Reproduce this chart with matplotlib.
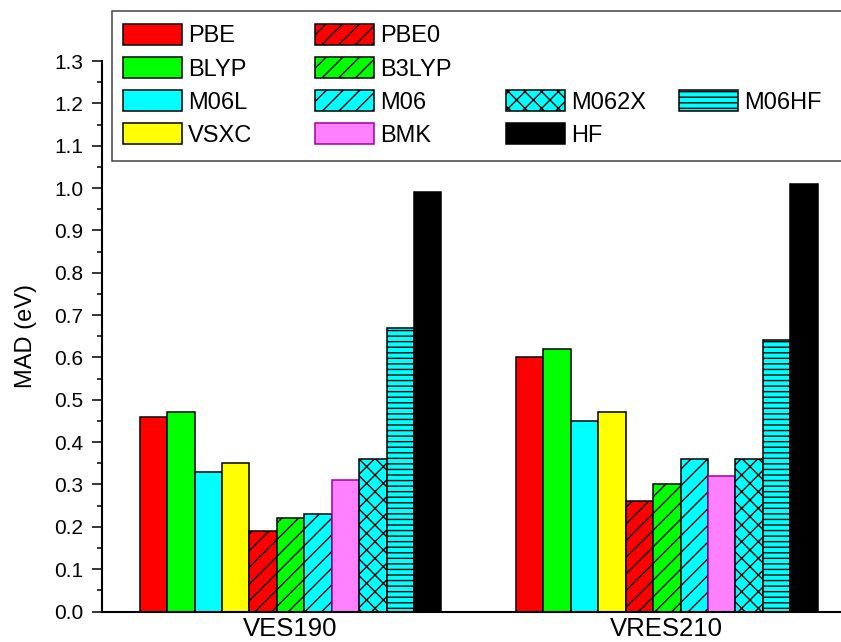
import matplotlib
matplotlib.use("Agg")
import matplotlib.pyplot as plt
from matplotlib.patches import Patch, Rectangle
from matplotlib.ticker import MultipleLocator, FormatStrFormatter
import numpy as np

plt.rcParams['font.family'] = ['Liberation Sans', 'DejaVu Sans']
plt.rcParams['hatch.linewidth'] = 1.0

groups = ["VES190", "VRES210"]
methods = ["PBE", "BLYP", "M06L", "VSXC", "PBE0", "B3LYP", "M06", "BMK", "M062X", "M06HF", "HF"]
ves190 = [0.46, 0.47, 0.33, 0.35, 0.19, 0.22, 0.23, 0.31, 0.36, 0.67, 0.99]
vres210 = [0.60, 0.62, 0.45, 0.47, 0.26, 0.30, 0.36, 0.32, 0.36, 0.64, 1.01]

faces = {"PBE": "#FF0000", "BLYP": "#00FF00", "M06L": "#00FFFF", "VSXC": "#FFFF00",
         "PBE0": "#FF0000", "B3LYP": "#00FF00", "M06": "#00FFFF", "BMK": "#FF80FF",
         "M062X": "#00FFFF", "M06HF": "#00FFFF", "HF": "#000000"}
edges = {m: "#000000" for m in methods}
edges["BMK"] = "#A000A0"
hatches = {m: None for m in methods}
hatches.update({"PBE0": "//", "B3LYP": "//", "M06": "//", "M062X": "xx", "M06HF": "---"})

W, H = 841, 642
fig = plt.figure(figsize=(W / 100, H / 100), dpi=100)
ax_left, ax_right = 101.5 / W, 1.0
ax_bottom = (H - 611.5) / H
ax_top = (H - 61) / H
ax = fig.add_axes([ax_left, ax_bottom, ax_right - ax_left, ax_top - ax_bottom])

x = np.arange(len(groups))
w = 0.0729
n = len(methods)
for i, m in enumerate(methods):
    vals = [ves190[i], vres210[i]]
    ax.bar(x + (i - (n - 1) / 2) * w, vals, width=w, color=faces[m], edgecolor=edges[m],
           hatch=hatches[m], linewidth=1.1, label=m, zorder=2)

ax.set_xlim(-0.5025, 1.463)
ax.set_ylim(0, 1.3)
ax.set_xticks(x)
ax.set_xticklabels(groups, fontsize=18.5)
ax.tick_params(axis='x', length=0, pad=4)
ax.yaxis.set_major_locator(MultipleLocator(0.1))
ax.yaxis.set_minor_locator(MultipleLocator(0.05))
ax.yaxis.set_major_formatter(FormatStrFormatter('%.1f'))
ax.tick_params(axis='y', which='major', length=7.2, width=1.1, labelsize=15, pad=6, direction='out')
ax.tick_params(axis='y', which='minor', length=3.6, width=1.1, direction='out')
for s in ['top', 'right']:
    ax.spines[s].set_visible(False)
for s in ['left', 'bottom']:
    ax.spines[s].set_linewidth(1.5)
ax.set_ylabel("MAD (eV)", fontsize=17)
ax.yaxis.set_label_coords(-0.087, 0.5)

# legend frame
fx0, fy0, fx1, fy1 = 112, 11, 870, 161
frame = Rectangle((fx0 / W, 1 - fy1 / H), (fx1 - fx0) / W, (fy1 - fy0) / H,
                  transform=fig.transFigure, facecolor='white', edgecolor='#444444',
                  linewidth=1.1, zorder=3)
fig.patches.append(frame)

def handle(m):
    if m is None:
        return Patch(facecolor='none', edgecolor='none'), ""
    return Patch(facecolor=faces[m], edgecolor=edges[m], hatch=hatches[m], linewidth=1.1), m

columns = [["PBE", "BLYP", "M06L", "VSXC"],
           ["PBE0", "B3LYP", "M06", "BMK"],
           [None, None, "M062X", "HF"],
           [None, None, "M06HF", None]]
col_left = [123, 315, 506, 679]
fs = 17
for cl, col in zip(col_left, columns):
    hs, ls = zip(*[handle(m) for m in col])
    leg = fig.legend(list(hs), list(ls), loc='upper left',
                     bbox_to_anchor=(cl / W, 1 - 24.0 / H), bbox_transform=fig.transFigure,
                     frameon=False, fontsize=fs, handlelength=2.5, handleheight=0.975,
                     handletextpad=0.25, labelspacing=0.41, borderpad=0, borderaxespad=0)
    leg.set_zorder(4)

fig.savefig("out.png", dpi=100)
